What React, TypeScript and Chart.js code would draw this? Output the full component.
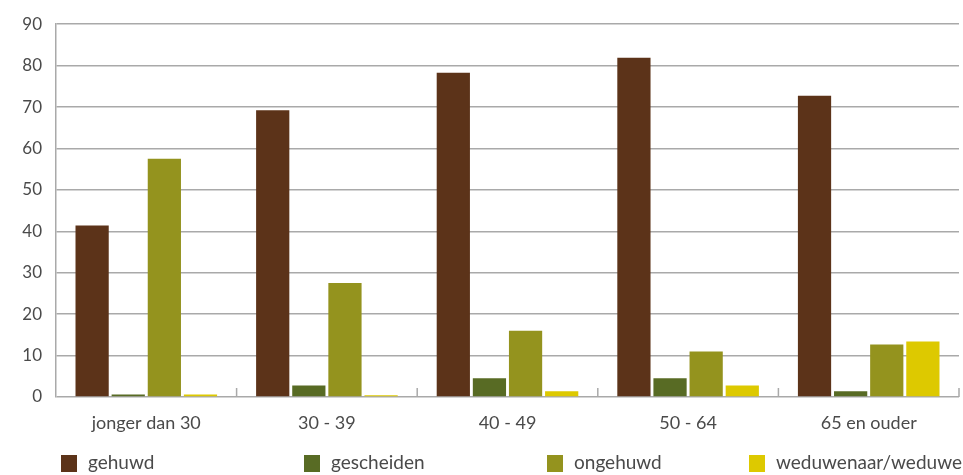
import React, { useEffect, useRef } from "react";
import { Chart, registerables } from "chart.js";

Chart.register(...registerables);

const categories = ["jonger dan 30", "30 - 39", "40 - 49", "50 - 64", "65 en ouder"];
const seriesNames = ["gehuwd", "gescheiden", "ongehuwd", "weduwenaar/weduwe"];
const gehuwd = [41.4, 69.2, 78.3, 81.9, 72.7];
const gescheiden = [0.6, 2.8, 4.5, 4.5, 1.4];
const ongehuwd = [57.5, 27.5, 16.0, 11.0, 12.7];
const weduwe = [0.6, 0.4, 1.4, 2.8, 13.4];
const colors = ["#5C3319", "#586B24", "#94931E", "#DDC900"];
const yTicks = [0, 10, 20, 30, 40, 50, 60, 70, 80, 90];

const FONT = "Lato, 'Open Sans', sans-serif";
const TEXT = "#4a4a4a";
const GRID = "#a9a9a9";

const upTicks = {
  id: "upTicks",
  afterDatasetsDraw(chart: any) {
    const { ctx, chartArea } = chart;
    const n = categories.length;
    const w = (chartArea.right - chartArea.left) / n;
    ctx.save();
    ctx.strokeStyle = GRID;
    ctx.lineWidth = 1.5;
    for (let i = 1; i <= n; i++) {
      const x = chartArea.left + i * w;
      ctx.beginPath();
      ctx.moveTo(x, chartArea.bottom);
      ctx.lineTo(x, chartArea.bottom - 9);
      ctx.stroke();
    }
    ctx.restore();
  },
};

const fixedLegend = {
  id: "fixedLegend",
  afterDraw(chart: any) {
    const { ctx } = chart;
    const xs = [61, 304, 547, 749];
    const y = 455;
    ctx.save();
    ctx.font = `19px ${FONT}`;
    ctx.textBaseline = "middle";
    ctx.textAlign = "left";
    chart.data.datasets.forEach((ds: any, i: number) => {
      ctx.fillStyle = ds.backgroundColor;
      ctx.fillRect(xs[i], y, 16, 17);
      ctx.fillStyle = TEXT;
      ctx.fillText(ds.label, xs[i] + 27, y + 8);
    });
    ctx.restore();
  },
};

export default function App() {
  const ref = useRef<HTMLCanvasElement>(null);
  useEffect(() => {
    document.body.style.margin = "0";
    const data = [gehuwd, gescheiden, ongehuwd, weduwe];
    const chart = new Chart(ref.current!, {
      type: "bar",
      data: {
        labels: categories,
        datasets: seriesNames.map((name, i) => ({
          label: name,
          data: data[i],
          backgroundColor: colors[i],
          borderWidth: 0,
          categoryPercentage: 0.8,
          barPercentage: 0.92,
        })),
      },
      options: {
        animation: false,
        responsive: false,
        layout: { padding: { top: 22, right: 4, bottom: 0, left: 0 } },
        plugins: { legend: { display: false }, tooltip: { enabled: false } },
        scales: {
          x: {
            grid: { display: false, drawTicks: false },
            border: { display: false },
            ticks: { color: TEXT, font: { family: FONT, size: 18 }, padding: 15 },
            afterFit: (s: any) => { s.height = 78; },
          },
          y: {
            min: 0,
            max: 90,
            afterBuildTicks: (s: any) => { s.ticks = yTicks.map((v) => ({ value: v })); },
            grid: { color: GRID, lineWidth: 1.5, drawTicks: false },
            border: { color: GRID, width: 1.5 },
            ticks: { color: TEXT, font: { family: FONT, size: 17 }, padding: 14 },
            afterFit: (s: any) => { s.width = 56; },
          },
        },
      },
      plugins: [upTicks, fixedLegend],
    });
    return () => chart.destroy();
  }, []);
  return <canvas ref={ref} width={963} height={475} style={{ display: "block" }} />;
}
